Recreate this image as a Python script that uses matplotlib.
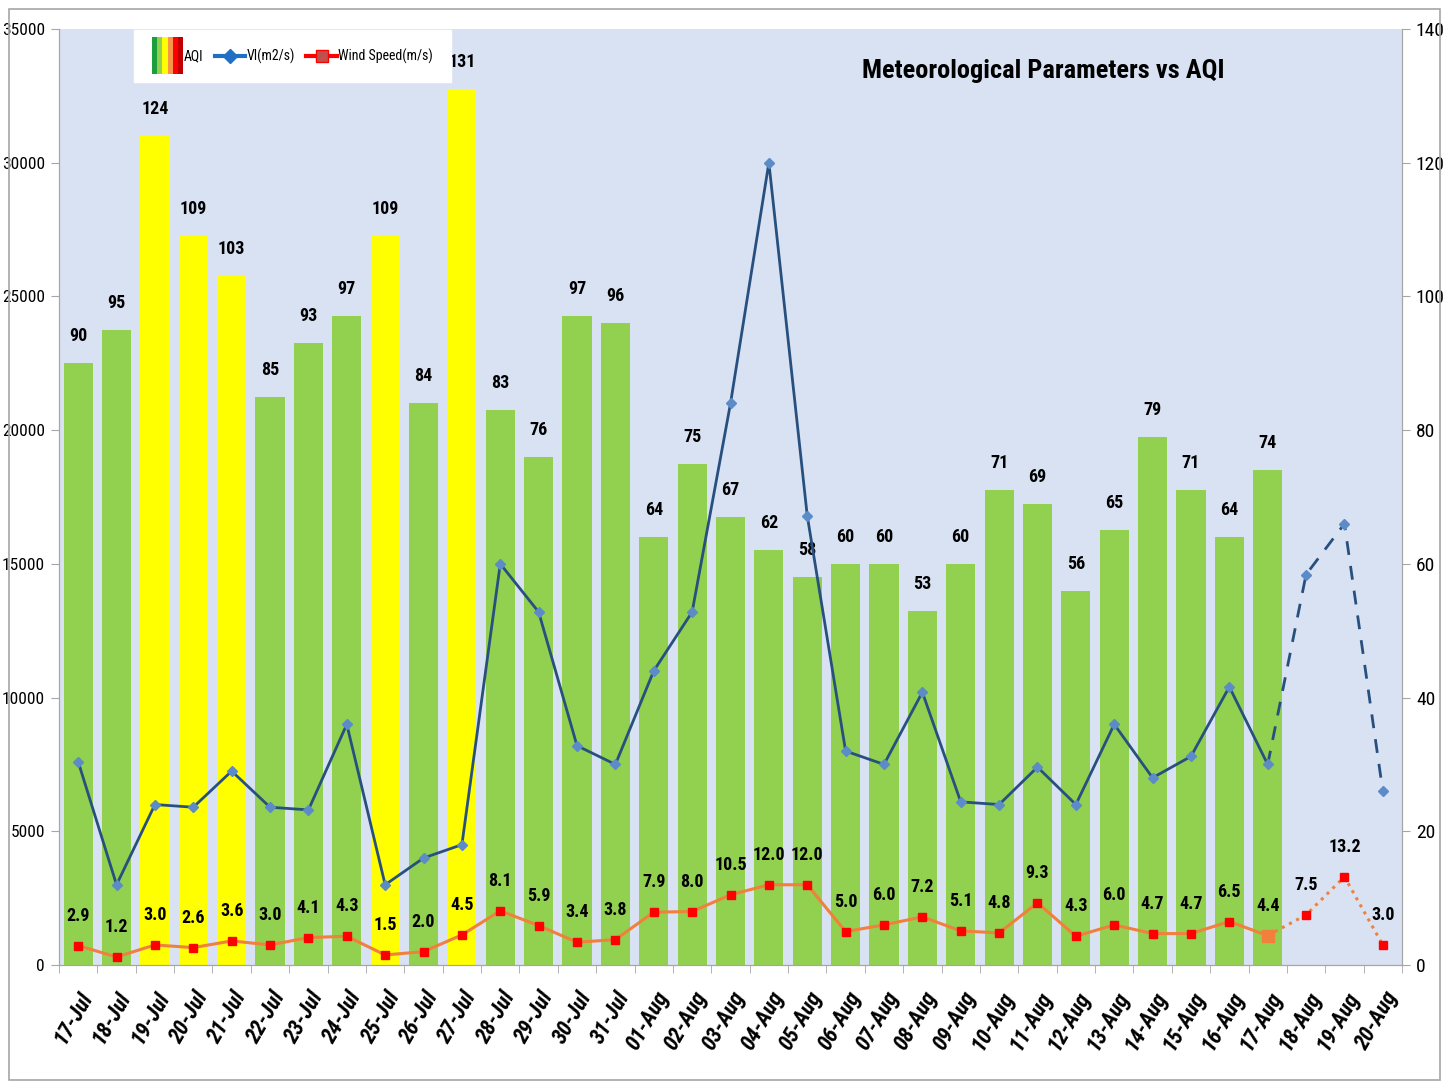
import matplotlib
matplotlib.use("Agg")
import matplotlib.pyplot as plt
import matplotlib.patches as mpatches
from matplotlib.lines import Line2D
from matplotlib.legend_handler import HandlerBase
from matplotlib import font_manager
import numpy as np

dates = ["17-Jul", "18-Jul", "19-Jul", "20-Jul", "21-Jul", "22-Jul", "23-Jul", "24-Jul",
         "25-Jul", "26-Jul", "27-Jul", "28-Jul", "29-Jul", "30-Jul", "31-Jul",
         "01-Aug", "02-Aug", "03-Aug", "04-Aug", "05-Aug", "06-Aug", "07-Aug", "08-Aug",
         "09-Aug", "10-Aug", "11-Aug", "12-Aug", "13-Aug", "14-Aug", "15-Aug", "16-Aug",
         "17-Aug", "18-Aug", "19-Aug", "20-Aug"]

# AQI observed up to 17-Aug
aqi = [90, 95, 124, 109, 103, 85, 93, 97, 109, 84, 131, 83, 76, 97, 96,
       64, 75, 67, 62, 58, 60, 60, 53, 60, 71, 69, 56, 65, 79, 71, 64, 74]

# ventilation index (m2/s), last three are forecast
vi = [7600, 3000, 6000, 5900, 7250, 5900, 5800, 9000, 3000, 4000, 4500, 15000, 13200,
      8200, 7500, 11000, 13200, 21000, 30000, 16800, 8000, 7500, 10200, 6100, 6000,
      7400, 6000, 9000, 7000, 7800, 10400, 7500, 14600, 16500, 6500]

# wind speed (m/s), last three are forecast
wind = [2.9, 1.2, 3.0, 2.6, 3.6, 3.0, 4.1, 4.3, 1.5, 2.0, 4.5, 8.1, 5.9, 3.4, 3.8,
        7.9, 8.0, 10.5, 12.0, 12.0, 5.0, 6.0, 7.2, 5.1, 4.8, 9.3, 4.3, 6.0, 4.7, 4.7,
        6.5, 4.4, 7.5, 13.2, 3.0]

# pick a condensed face if one is around
installed = {f.name for f in font_manager.fontManager.ttflist}
cands = ["Liberation Sans Narrow", "Roboto Condensed", "DejaVu Sans Condensed",
         "Open Sans Condensed", "Noto Sans Condensed", "Ubuntu Condensed"]
NARROW = [c for c in cands if c in installed] + ["DejaVu Sans"]
CONDENSED = len(NARROW) > 1
k = 1.0 if CONDENSED else 0.85   # shrink a bit if we only have the wide face

BG = "#D9E2F3"
GREEN = "#92D050"
YELLOW = "#FFFF00"
VI_COL = "#27507F"
VI_MK = "#5B8CC8"
WIND_COL = "#F0803C"
WIND_MK = "#FF0000"

n_obs = len(aqi)
x = np.arange(len(dates))

fig = plt.figure(figsize=(14.55, 10.82), dpi=100)
fig.patches.append(mpatches.Rectangle((9 / 1455, 2 / 1082), 1431 / 1455, 1071 / 1082,
                                      transform=fig.transFigure, fill=False,
                                      edgecolor="#A6A6A6", lw=1.2))
ax = fig.add_axes([59 / 1455, 1 - 965 / 1082, 1343 / 1455, 936 / 1082])
ax.set_facecolor(BG)

# bars + wind on the 0-140 scale (right side)
bar_cols = [YELLOW if v > 100 else GREEN for v in aqi]
ax.bar(x[:n_obs], aqi, width=0.76, color=bar_cols, zorder=2)
for xi, v in zip(x[:n_obs], aqi):
    ax.annotate(str(v), (xi, v), xytext=(0, 13), textcoords="offset points",
                ha="center", va="bottom", fontsize=13 * k, fontweight="bold", family=NARROW)

ax.plot(x[:n_obs], wind[:n_obs], color=WIND_COL, lw=2.2, zorder=3)
ax.plot(x[n_obs - 1:], wind[n_obs - 1:], color=WIND_COL, lw=2.2, ls=":", zorder=3)
ax.plot(x, wind, ls="none", marker="s", ms=6, color=WIND_MK, zorder=4)
ax.plot(x[n_obs - 1], wind[n_obs - 1], ls="none", marker="s", ms=9, color=WIND_COL, zorder=4)
for xi, v in zip(x, wind):
    ax.annotate(f"{v:.1f}", (xi, v), xytext=(0, 15), textcoords="offset points",
                ha="center", va="bottom", fontsize=13 * k, fontweight="bold", family=NARROW)

ax.set_xlim(-0.5, len(dates) - 0.5)
ax.set_ylim(0, 140)
ax.set_yticks(np.arange(0, 141, 20))

# VI on the 0-35000 scale (left side)
ax2 = ax.twinx()
ax2.plot(x[:n_obs], vi[:n_obs], color=VI_COL, lw=2, zorder=5)
ax2.plot(x[n_obs - 1:], vi[n_obs - 1:], color=VI_COL, lw=2, ls=(0, (5, 4)), zorder=5)
ax2.plot(x, vi, ls="none", marker="D", ms=5, color=VI_MK, zorder=6)
ax2.set_ylim(0, 35000)
ax2.set_yticks(np.arange(0, 35001, 5000))
ax2.yaxis.tick_left()
ax.yaxis.tick_right()

for a in (ax, ax2):
    for s in a.spines.values():
        s.set_color("#A6A6A6")
    a.spines["top"].set_visible(False)
    a.tick_params(axis="y", colors="#A6A6A6", length=6, labelcolor="black",
                  labelsize=12.5 * k, pad=4)
    for lab in a.get_yticklabels():
        lab.set_family(NARROW)
ax.tick_params(axis="y", labelsize=14 * k)

ax.set_xticks(np.arange(-0.5, len(dates), 1), minor=True)
ax.set_xticks(x)
ax.tick_params(axis="x", which="major", length=0, pad=16)
ax.tick_params(axis="x", which="minor", length=6, color="#A6A6A6")
ax.set_xticklabels(dates, rotation=60, ha="right", va="top", rotation_mode="anchor",
                   fontsize=16 * k, fontweight="bold", fontstyle="italic", family=NARROW)

ax.text(0.733, 0.955, "Meteorological Parameters vs AQI", transform=ax.transAxes,
        ha="center", va="center", fontsize=19 if CONDENSED else 15,
        fontweight="bold", family=NARROW)


class AQIHandler(HandlerBase):
    def create_artists(self, legend, orig, xd, yd, w, h, fontsize, trans):
        cols = ["#1E9E3A", "#92D050", "#FFFF00", "#F79646", "#FF0000", "#C00000"]
        sw = w / len(cols)
        arts = []
        for i, c in enumerate(cols):
            r = mpatches.Rectangle((xd + i * sw, yd - h * 1.4), sw, h * 3.8,
                                   facecolor=c, edgecolor="none", transform=trans)
            arts.append(r)
        return arts


aqi_h = mpatches.Patch(label="AQI")
vi_h = Line2D([], [], color="#1F6FC5", lw=3, marker="D", ms=7, mfc="#1F6FC5",
              label="VI(m2/s)")
wind_h = Line2D([], [], color="#FF0000", lw=3, marker="s", ms=9, mfc="#C0504D",
                label="Wind Speed(m/s)")
leg = ax.legend(handles=[aqi_h, vi_h, wind_h], handler_map={aqi_h: AQIHandler()},
                loc="upper left", bbox_to_anchor=(0.055, 1.0), ncol=3, frameon=True,
                fancybox=False, edgecolor="white", facecolor="white", framealpha=1,
                borderpad=1.3, borderaxespad=0.1, handlelength=2.2, handletextpad=0.1,
                columnspacing=0.8, prop={"family": NARROW, "size": 10 if CONDENSED else 8.5})
leg.set_zorder(10)

fig.savefig("out.png", dpi=100)
